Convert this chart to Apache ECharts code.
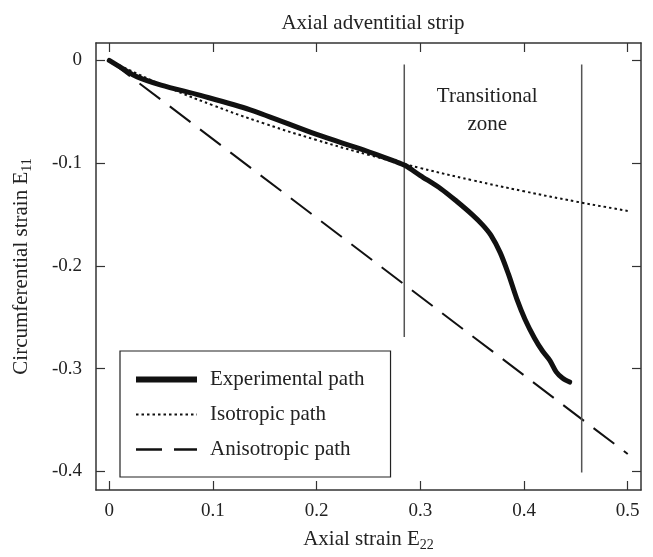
<!DOCTYPE html>
<html>
<head>
<meta charset="utf-8">
<script src="https://cdn.jsdelivr.net/npm/echarts@6/dist/echarts.min.js"></script>
<style>html,body{margin:0;padding:0;background:#fff;}#c{width:653px;height:557px;}</style>
</head>
<body>
<div id="c"></div>
<script>
// ---- data ----
var xTicks = [0, 0.1, 0.2, 0.3, 0.4, 0.5];
var yTicks = [0, -0.1, -0.2, -0.3, -0.4];
var experimental = [
  [0, 0], [0.013, -0.008], [0.027, -0.016], [0.05, -0.024], [0.088, -0.034],
  [0.136, -0.048], [0.2, -0.072], [0.245, -0.087], [0.275, -0.098], [0.285, -0.102],
  [0.3, -0.112], [0.32, -0.125], [0.335, -0.137], [0.35, -0.150], [0.36, -0.160],
  [0.368, -0.170], [0.377, -0.187], [0.385, -0.208], [0.393, -0.232], [0.401, -0.252],
  [0.41, -0.270], [0.418, -0.283], [0.425, -0.292], [0.431, -0.303], [0.437, -0.309],
  [0.444, -0.313]
];
var isotropic = [
  [0, 0], [0.05, -0.0233], [0.1, -0.0436], [0.15, -0.0615], [0.2, -0.0774],
  [0.25, -0.0918], [0.3, -0.1047], [0.35, -0.1165], [0.4, -0.1273], [0.45, -0.1373],
  [0.5, -0.1464]
];
var anisotropic = [[0, 0], [0.5, -0.383]];
var zoneLeft = [[0.2845, -0.004], [0.2845, -0.269]];
var zoneRight = [[0.4556, -0.004], [0.4556, -0.401]];
var zoneLabel = [[0.3645, -0.049]];
var seriesNames = ['Experimental path', 'Isotropic path', 'Anisotropic path'];

var FONT = 'Liberation Serif';
var chart = echarts.init(document.getElementById('c'), null, {renderer: 'canvas'});

var axisLine = {show: true, onZero: false, lineStyle: {color: '#333', width: 1.5}};
var tick = {show: true, inside: true, length: 9, lineStyle: {color: '#333', width: 1.2}};

chart.setOption({
  backgroundColor: '#fff',
  animation: false,
  title: {
    text: 'Axial adventitial strip',
    left: 368, textAlign: 'center', top: 8,
    textStyle: {fontFamily: FONT, fontSize: 21, fontWeight: 'normal', color: '#222'}
  },
  grid: {left: 96, right: 12, top: 43, bottom: 62},
  legend: {
    orient: 'vertical',
    left: 120, top: 351,
    padding: [18, 26, 17, 13],
    itemWidth: 61, itemHeight: 14, itemGap: 14,
    borderColor: '#222', borderWidth: 1.2,
    data: [
      {name: seriesNames[0], lineStyle: {width: 6, cap: 'butt'}},
      {name: seriesNames[1], lineStyle: {width: 2, cap: 'butt'}},
      {name: seriesNames[2], lineStyle: {width: 2.5, cap: 'butt'}}
    ],
    itemStyle: {color: 'rgba(0,0,0,0)', borderWidth: 0, opacity: 0},
    textStyle: {fontFamily: FONT, fontSize: 21, color: '#222', padding: [0, 0, 0, 8]}
  },
  xAxis: [{
    type: 'value', min: -0.0128, max: 0.5128,
    position: 'bottom',
    name: '{a|Axial strain E}{s|22}', nameLocation: 'middle', nameGap: 36,
    nameTextStyle: {rich: {
      a: {fontFamily: FONT, fontSize: 21, color: '#222'},
      s: {fontFamily: FONT, fontSize: 14, color: '#222', verticalAlign: 'bottom', padding: [12, 0, 0, 0]}
    }},
    axisLine: axisLine,
    axisTick: Object.assign({customValues: xTicks}, tick),
    axisLabel: {
      fontFamily: FONT, fontSize: 19, color: '#222', margin: 12,
      customValues: xTicks,
      formatter: function (v) { return String(Math.round(v * 10) / 10); }
    },
    splitLine: {show: false}
  }, {
    type: 'value', min: -0.0128, max: 0.5128, position: 'top',
    axisLine: axisLine,
    axisTick: Object.assign({customValues: xTicks}, tick),
    axisLabel: {show: false}, splitLine: {show: false}
  }],
  yAxis: [{
    type: 'value', min: -0.418, max: 0.017,
    position: 'left',
    name: '{a|Circumferential strain E}{s|11}', nameLocation: 'middle', nameGap: 62,
    nameTextStyle: {rich: {
      a: {fontFamily: FONT, fontSize: 21, color: '#222'},
      s: {fontFamily: FONT, fontSize: 14, color: '#222', verticalAlign: 'bottom', padding: [12, 0, 0, 0]}
    }},
    axisLine: axisLine,
    axisTick: Object.assign({customValues: yTicks}, tick),
    axisLabel: {
      fontFamily: FONT, fontSize: 19, color: '#222', margin: 14,
      customValues: yTicks,
      formatter: function (v) { return String(Math.round(v * 10) / 10); }
    },
    splitLine: {show: false}
  }, {
    type: 'value', min: -0.418, max: 0.017, position: 'right',
    axisLine: axisLine,
    axisTick: Object.assign({customValues: yTicks}, tick),
    axisLabel: {show: false}, splitLine: {show: false}
  }],
  series: [{
    name: 'Experimental path', type: 'line', data: experimental,
    symbol: 'none', smooth: 0.3, z: 5,
    lineStyle: {color: '#111', width: 5, cap: 'round', join: 'round'},
    itemStyle: {color: '#111'}
  }, {
    name: 'Isotropic path', type: 'line', data: isotropic,
    symbol: 'none', smooth: true, z: 4,
    lineStyle: {color: '#111', width: 2, type: [2.5, 3]},
    itemStyle: {color: '#111'}
  }, {
    name: 'Anisotropic path', type: 'line', data: anisotropic,
    symbol: 'none', z: 3,
    lineStyle: {color: '#111', width: 2, type: [26, 12]},
    itemStyle: {color: '#111'}
  }, {
    name: 'zoneLeft', type: 'line', data: zoneLeft, symbol: 'none', silent: true,
    lineStyle: {color: '#555', width: 1.5}
  }, {
    name: 'zoneRight', type: 'line', data: zoneRight, symbol: 'none', silent: true,
    lineStyle: {color: '#555', width: 1.5}
  }, {
    name: 'zoneText', type: 'scatter', data: zoneLabel, symbolSize: 0, silent: true,
    itemStyle: {color: '#222', opacity: 1},
    label: {
      show: true, position: 'inside', formatter: 'Transitional\nzone',
      fontFamily: FONT, fontSize: 21, lineHeight: 28, color: '#222', align: 'center',
      textBorderWidth: 0, opacity: 1
    }
  }]
});
</script>
</body>
</html>
